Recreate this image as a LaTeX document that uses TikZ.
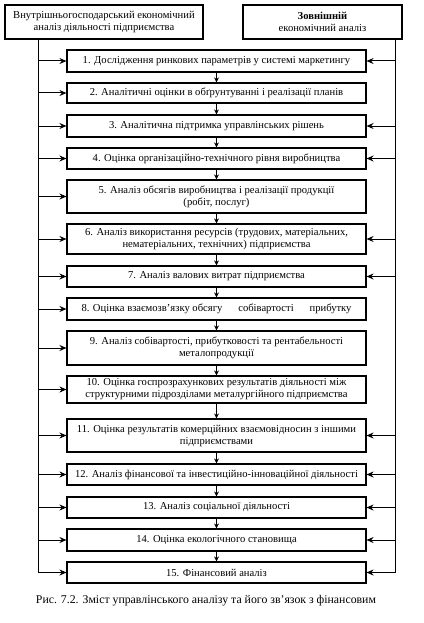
\documentclass[tikz,border=0pt]{standalone}
\usepackage{fontspec}
\setmainfont{Liberation Serif}
\usetikzlibrary{arrows.meta}
\begin{document}
\begin{tikzpicture}[x=1pt,y=-1pt,
  box/.style={draw,line width=1.1pt,align=center,inner sep=0pt,font=\fontsize{10.6}{12}\selectfont},
  mbox/.style={box,minimum width=299pt},
  arr/.style={line width=1pt,-{Stealth[length=7pt,width=6pt]}},
  varr/.style={line width=1pt,-{Stealth[length=5pt,width=5pt]}}]
\fill[white] (0,0) rectangle (423,623);
\useasboundingbox (0,0) rectangle (423,623);
\node[box,minimum width=198pt,minimum height=34pt] (L) at (104,22) {Внутрішньогосподарський економічний\\аналіз діяльності підприємства};
\node[box,minimum width=159pt,minimum height=34pt] (R) at (322.5,22) {\textbf{Зовнішній}\\економічний аналіз};
\coordinate (lb) at (38,0);
\coordinate (rb) at (395,0);
\node[mbox,minimum height=22pt] (b1) at (216.5,61) {1. Дослідження ринкових параметрів у системі маркетингу};
\node[mbox,minimum height=20pt] (b2) at (216.5,93) {2. Аналітичні оцінки в обґрунтуванні і реалізації планів};
\node[mbox,minimum height=22pt] (b3) at (216.5,126) {3. Аналітична підтримка управлінських рішень};
\node[mbox,minimum height=21pt] (b4) at (216.5,158.5) {4. Оцінка організаційно-технічного рівня виробництва};
\node[mbox,minimum height=33pt] (b5) at (216.5,196.5) {5. Аналіз обсягів виробництва і реалізації продукції\\(робіт, послуг)};
\node[mbox,minimum height=30pt] (b6) at (216.5,239) {6. Аналіз використання ресурсів (трудових, матеріальних,\\нематеріальних, технічних) підприємства};
\node[mbox,minimum height=21pt] (b7) at (216.5,276.5) {7. Аналіз валових витрат підприємства};
\node[mbox,minimum height=22pt] (b8) at (216.5,309) {8. Оцінка взаємозв’язку обсягу\hspace{1.5em}собівартості\hspace{1.5em}прибутку};
\node[mbox,minimum height=34pt] (b9) at (216.5,348) {9. Аналіз собівартості, прибутковості та рентабельності\\металопродукції};
\node[mbox,minimum height=27pt] (b10) at (216.5,389.5) {10. Оцінка госпрозрахункових результатів діяльності між\\структурними підрозділами металургійного підприємства};
\node[mbox,minimum height=33pt] (b11) at (216.5,435.5) {11. Оцінка результатів комерційних взаємовідносин з іншими\\підприємствами};
\node[mbox,minimum height=21pt] (b12) at (216.5,474.5) {12. Аналіз фінансової та інвестиційно-інноваційної діяльності};
\node[mbox,minimum height=21pt] (b13) at (216.5,507.5) {13. Аналіз соціальної діяльності};
\node[mbox,minimum height=22pt] (b14) at (216.5,540) {14. Оцінка екологічного становища};
\node[mbox,minimum height=21pt] (b15) at (216.5,572.5) {15. Фінансовий аналіз};
\node[font=\fontsize{11.8}{14}\selectfont,anchor=base] (cap) at (206,603) {Рис. 7.2. Зміст управлінського аналізу та його зв’язок з фінансовим};
% buses
\draw[arr] (L.south -| lb) |- (b15.west);
\draw[arr] (R.south -| rb) |- (b15.east);
\foreach \i in {1,...,14}{\draw[arr] (b\i.west -| lb) -- (b\i.west);}
\foreach \i in {1,3,4,6,7,11,12,13,14}{\draw[arr] (b\i.east -| rb) -- (b\i.east);}
\foreach \i [evaluate=\i as \j using int(\i+1)] in {1,...,14}{\draw[varr] (b\i.south) -- (b\j.north);}
\end{tikzpicture}
\end{document}
